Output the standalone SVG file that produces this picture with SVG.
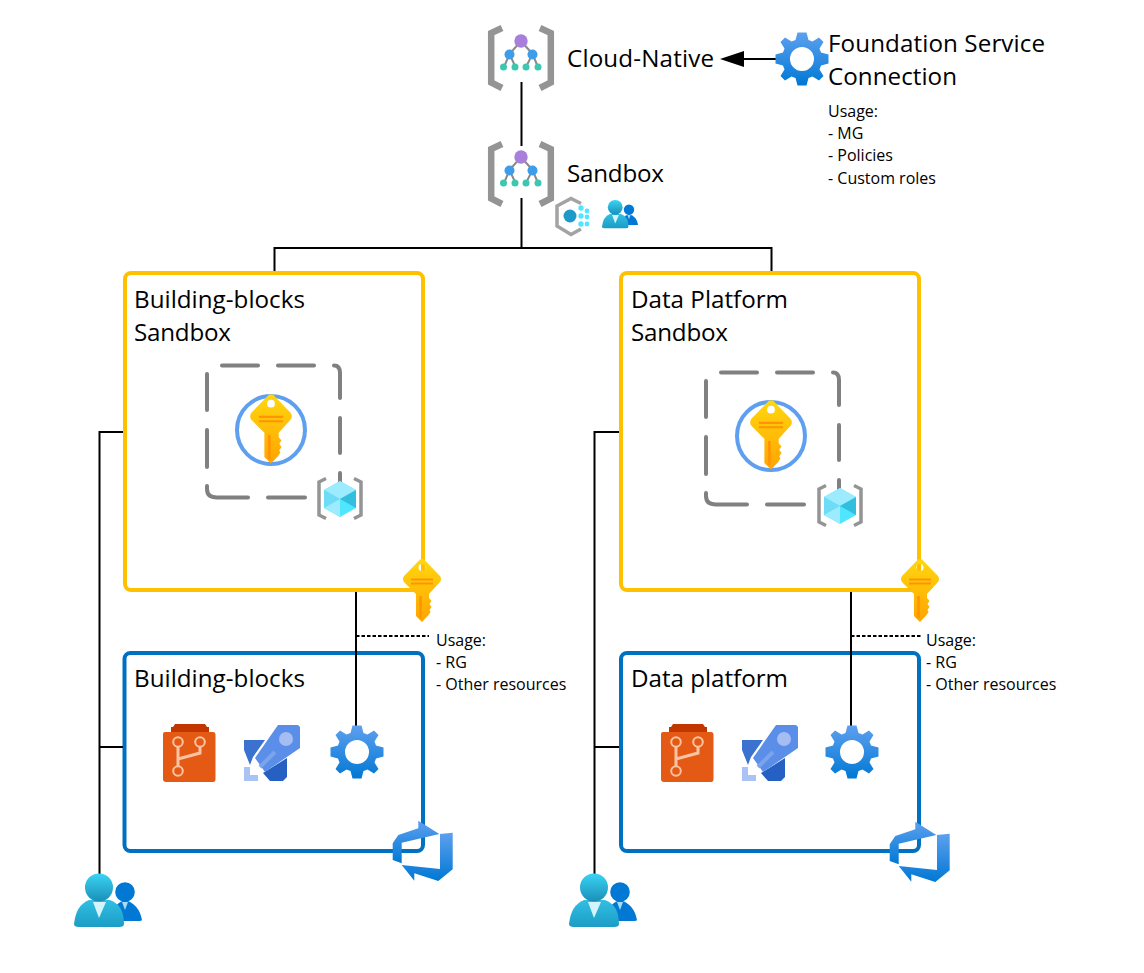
<svg xmlns="http://www.w3.org/2000/svg" width="1144" height="973" viewBox="0 0 1144 973">
<style>
text{font-family:"Open Sans","Noto Sans","Liberation Sans",sans-serif;fill:#000}
.t{font-size:24.2px}
.s{font-size:16px}
.c{fill:none;stroke:#000;stroke-width:2}
.d{fill:none;stroke:#000;stroke-width:2;stroke-dasharray:3.500 2}
.y{fill:#fff;stroke:#ffc000;stroke-width:4}
.b{fill:#fff;stroke:#0070c0;stroke-width:4}
.g{fill:none;stroke:#808080;stroke-width:4;stroke-linecap:round}
</style>
<defs>
<linearGradient id="gear" x1="0" y1="0" x2="0" y2="1"><stop offset="0" stop-color="#5ea0ef"/><stop offset="1" stop-color="#0078d4"/></linearGradient>
<linearGradient id="key" x1="0" y1="0" x2="0" y2="1"><stop offset="0" stop-color="#ffd70f"/><stop offset="1" stop-color="#ffa400"/></linearGradient>
<linearGradient id="usr" x1="0" y1="0" x2="0" y2="1"><stop offset="0" stop-color="#3ad4f4"/><stop offset="1" stop-color="#1a8fb8"/></linearGradient>
<linearGradient id="usr2" x1="0" y1="0" x2="0" y2="1"><stop offset="0" stop-color="#32bfe4"/><stop offset="1" stop-color="#1c9cc4"/></linearGradient>
<marker id="arr" markerWidth="24" markerHeight="18" refX="0" refY="9" orient="auto" markerUnits="userSpaceOnUse"><path d="M0 1V17L24 9Z" fill="#000"/></marker>
<symbol id="mg" width="66" height="65" viewBox="0 0 66 65" overflow="visible">
<path d="M14 2 3.200 7V56.500L14 62M52 2 62.800 7V56.500L52 62" fill="none" stroke="#949494" stroke-width="6.500"/>
<path d="M33 15 21.500 28 16 41M21.500 28 27.500 41M33 15 44.500 28 38 41M44.500 28 50 41" fill="none" stroke="#8a8a8a" stroke-width="2"/>
<circle cx="33" cy="15" r="6.700" fill="#a97fdc"/>
<circle cx="21.500" cy="28.500" r="5" fill="#3f9ce8"/>
<circle cx="44.500" cy="28.500" r="5" fill="#3f9ce8"/>
<g fill="#3cc8b0"><circle cx="15.500" cy="41" r="3.500"/><circle cx="27" cy="41" r="3.500"/><circle cx="38" cy="41" r="3.500"/><circle cx="50" cy="41" r="3.500"/></g>
</symbol>
<symbol id="cog" width="54" height="54" viewBox="-27 -27 54 54" overflow="visible">
<path fill="url(#gear)" fill-rule="evenodd" d="M-4.500-26.500H4.500L6.500-19 10.500-17.500 17-21.500 21.500-17 17.500-10.500 19-6.500 26.500-4.500V4.500L19 6.500 17.500 10.500 21.500 17 17 21.500 10.500 17.500 6.500 19 4.500 26.500H-4.500L-6.500 19-10.500 17.500-17 21.500-21.500 17-17.500 10.500-19 6.500-26.500 4.500V-4.500L-19-6.500-17.500-10.500-21.500-17-17-21.500-10.500-17.500-6.500-19ZM0-12A12 12 0 1 0 0 12 12 12 0 1 0 0-12Z"/>
</symbol>
<symbol id="key0" width="40" height="62" viewBox="-20 0 40 62" overflow="visible">
<path fill="url(#key)" fill-rule="evenodd" d="M-2-.500Q0-1.500 2-.500L18 16Q20 19 18 22L7 34V38L9.500 41 7.500 44 9.500 47 7.500 50 8.500 52 6.500 55 0 62-6 56V34L-18 22Q-20 19-18 16ZM0 4A3.500 3.500 0 1 0 0 11 3.500 3.500 0 1 0 0 4Z"/>
<path d="M-11 19.500H11M-11 23.500H11" stroke="#ff9300" stroke-width="2" fill="none"/>
<path d="M-1.500 36V58" stroke="#ff9300" stroke-width="2.500" fill="none"/>
</symbol>
<symbol id="cube" width="46" height="44" viewBox="0 0 46 44" overflow="visible">
<path d="M9 1.500 2 5V38L9 41.500M37 1.500 44 5V38L37 41.500" fill="none" stroke="#949494" stroke-width="3.500"/>
<path d="M23 4 39 13V31L23 40 7 31V13Z" fill="#50e6ff"/>
<path d="M23 4 39 13 23 22 7 13Z" fill="#9cebff"/>
<path d="M39 13V31L23 22Z" fill="#32bedd"/>
<path d="M7 13V31L23 22Z" fill="#6fdcf5"/>
<path d="M7 31 23 40V22Z" fill="#9cebff"/>
</symbol>
<symbol id="kv" width="72" height="72" viewBox="-36 -36 72 72" overflow="visible">
<circle r="34" fill="#fff" stroke="#5ea0ef" stroke-width="4"/>
<use href="#key0" x="-22" y="-35" width="44" height="69"/>
</symbol>
<symbol id="dash" width="135" height="135" viewBox="207 365 135 135" overflow="visible">
<path class="g" d="M222 365.500H258M278 365.500H314M334 365.500Q340 365.500 340 373V398M340 418V453M340 473V490M305 497.500H268M248 497.500H217Q207 497.500 207 489V486M207 467V430M207 410V374"/>
</symbol>
<symbol id="user" width="68" height="56" viewBox="0 0 68 56" overflow="visible">
<circle cx="51" cy="18" r="9.800" fill="#0078d4"/>
<path d="M37 46Q38 30 51 26 65 30 68 46Q68 47 65 47H39Z" fill="#0078d4"/>
<path d="M48 28H54L51 36Z" fill="#a8dcf5"/>
<path d="M0 50Q2 31 15 26H36Q50 31 50 50 50 53 45 53H5Q0 53 0 50Z" fill="url(#usr2)"/>
<circle cx="25" cy="13.500" r="14" fill="url(#usr)"/>
<path d="M19 28H32L25 44Z" fill="#d3f4fb"/>
</symbol>
<symbol id="pipe" width="58" height="58" viewBox="0 0 58 58" overflow="visible">
<path d="M1 15H22L10 32 7 40 1 25Z" fill="#3b72cf"/>
<path d="M44 33V52L40 56H27L20 48Z" fill="#2560c2"/>
<path d="M35 0H55L57 2V23L22 47 12 33Z" fill="#5a8ee8"/>
<circle cx="43" cy="14" r="7" fill="#a4bdf2"/>
<path d="M17 42 32 27" stroke="#7ba4ec" stroke-width="4" fill="none"/>
<path d="M1 42H7V50H15V56H1Z" fill="#a9c3f4"/>
</symbol>
<symbol id="repo" width="54" height="58" viewBox="0 0 54 58" overflow="visible">
<path d="M8 3H10L12 0H42L44 3H46V9H8Z" fill="#c23600"/>
<path d="M2 8H50Q52.500 8 52.500 11V55Q52.500 58 50 58H3Q0 58 0 55V10Q0 8 2 8Z" fill="#e45a14"/>
<path d="M15 22V43M15 35 37 29V22" fill="none" stroke="#fbc3a3" stroke-width="3"/>
<circle cx="15" cy="18" r="4.800" fill="#e45a14" stroke="#fbc3a3" stroke-width="2"/>
<circle cx="37" cy="18" r="4.800" fill="#e45a14" stroke="#fbc3a3" stroke-width="2"/>
<circle cx="15" cy="47" r="4.800" fill="#e45a14" stroke="#fbc3a3" stroke-width="2"/>
</symbol>
<symbol id="ado" width="62" height="60" viewBox="0 0 62 60" overflow="visible">
<path fill="url(#gear)" d="M.7 21.300 6.300 13 26.300 6.300V-1.300L47.300 12 9.700 20.700V41.300L.7 38Z"/>
<path fill="url(#gear)" d="M47.300 12 60.700 10.700V47.300L46.300 59 22.300 51.300V58.700L9.700 43 48 47V12Z"/>
</symbol>
<symbol id="pol" width="38" height="40" viewBox="0 0 38 40" overflow="visible">
<path d="M27 6.500 17 1.500 3 9V29L17 37.500 27 32" fill="none" stroke="#a3a3a3" stroke-width="3.500"/>
<circle cx="16" cy="19" r="6.500" fill="#1e9ac8"/>
<g fill="#50e6ff"><circle cx="27" cy="11" r="2.700"/><circle cx="33" cy="14" r="2.400"/><circle cx="27" cy="19" r="2.700"/><circle cx="33" cy="20" r="2.400"/><circle cx="27" cy="27" r="2.700"/><circle cx="33" cy="27" r="2.400"/></g>
</symbol>
</defs>

<g id="bb-sandbox-box"><rect class="y" x="125" y="273" width="298" height="317" rx="6"/></g>
<g id="dp-sandbox-box"><rect class="y" x="621" y="273" width="298" height="317" rx="6"/></g>
<g id="bb-project-box"><rect class="b" x="124.500" y="653" width="298.500" height="198" rx="6"/></g>
<g id="dp-project-box"><rect class="b" x="621" y="653" width="298" height="198" rx="6"/></g>

<g id="connectors">
<path class="c" d="M521.500 82V146M521.500 198V248M274.500 271V248H771.500V271"/>
<path class="c" d="M778 59H744" marker-end="url(#arr)"/>
<path class="c" d="M123 432H99.500V875M123 747H99.500"/>
<path class="c" d="M619 432H594.500V875M619 747H594.500"/>
<path class="c" d="M356 592V730M851 592V728"/>
<path class="d" d="M356 636H429M851 636H922"/>
</g>

<g id="cloud-native"><use href="#mg" x="488" y="26"/><text class="t" x="567" y="67" textLength="147">Cloud-Native</text></g>
<g id="sandbox"><use href="#mg" x="488" y="142"/><text class="t" x="567" y="182" textLength="97">Sandbox</text><use href="#pol" x="554" y="197"/><use href="#user" x="602" y="200" width="36" height="30"/></g>
<g id="foundation"><use href="#cog" x="775" y="32"/>
<text class="t" x="828" y="52" textLength="217">Foundation Service</text><text class="t" x="828" y="85" textLength="129">Connection</text>
<text class="s" x="828" y="117">Usage:</text><text class="s" x="828" y="139">- MG</text><text class="s" x="828" y="161">- Policies</text><text class="s" x="828" y="184">- Custom roles</text></g>

<g id="bb-sandbox">
<text class="t" x="134" y="308" textLength="171">Building-blocks</text><text class="t" x="134" y="341" textLength="97">Sandbox</text>
<use href="#dash" x="207" y="365"/>
<use href="#kv" x="235" y="394"/>
<use href="#cube" x="317" y="477"/>
<use href="#key0" x="402" y="560"/>
</g>
<g id="dp-sandbox">
<text class="t" x="631" y="308" textLength="157">Data Platform</text><text class="t" x="631" y="341" textLength="97">Sandbox</text>
<use href="#dash" x="706" y="372"/>
<use href="#kv" x="735" y="400"/>
<use href="#cube" x="817" y="484"/>
<use href="#key0" x="900" y="560"/>
</g>
<g id="bb-usage"><text class="s" x="436" y="646">Usage:</text><text class="s" x="436" y="668">- RG</text><text class="s" x="436" y="690">- Other resources</text></g>
<g id="dp-usage"><text class="s" x="926" y="646">Usage:</text><text class="s" x="926" y="668">- RG</text><text class="s" x="926" y="690">- Other resources</text></g>

<g id="bb-project">
<text class="t" x="134" y="687" textLength="171">Building-blocks</text>
<use href="#repo" x="163" y="724"/><use href="#pipe" x="243" y="725"/><use href="#cog" x="330" y="725"/>
<use href="#ado" x="392" y="822"/>
</g>
<g id="dp-project">
<text class="t" x="631" y="687" textLength="157">Data platform</text>
<use href="#repo" x="661" y="724"/><use href="#pipe" x="741" y="725"/><use href="#cog" x="825" y="725"/>
<use href="#ado" x="889" y="823"/>
</g>
<g id="bb-users"><use href="#user" x="74" y="874"/></g>
<g id="dp-users"><use href="#user" x="569" y="874"/></g>
</svg>
